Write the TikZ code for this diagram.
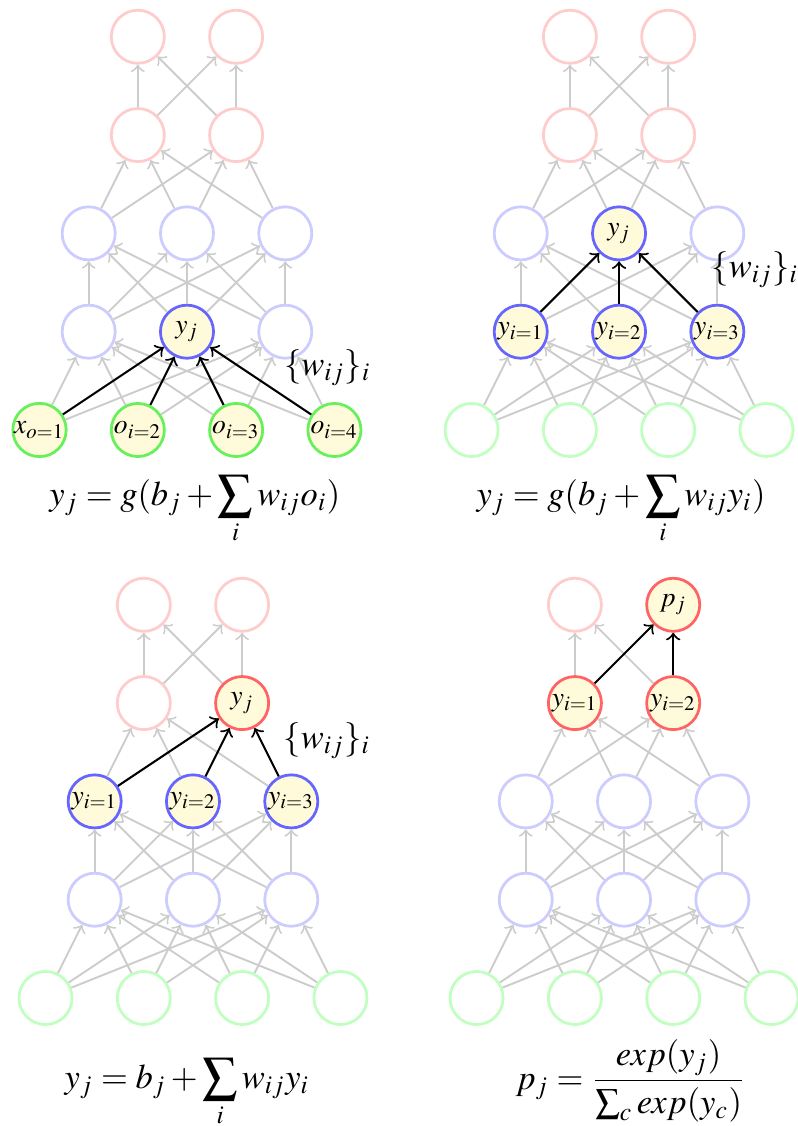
\documentclass[tikz,border=0pt]{standalone}
\usepackage{mathptmx}
\usetikzlibrary{positioning,calc}
\definecolor{GreenFaint}{RGB}{192,255,192}
\definecolor{GreenStrong}{RGB}{102,240,90}
\definecolor{BlueFaint}{RGB}{204,204,255}
\definecolor{BlueStrong}{RGB}{102,102,255}
\definecolor{RedFaint}{RGB}{255,204,204}
\definecolor{RedStrong}{RGB}{255,100,100}
\definecolor{CreamFill}{RGB}{255,251,218}
\definecolor{EdgeGray}{RGB}{204,204,204}
\tikzset{
  neuron/.style={circle, minimum size=0.54cm, inner sep=0pt, line width=0.8pt,
    fill=white, font=\footnotesize},
  inunit/.style={neuron, draw=GreenFaint},
  inlit/.style={neuron, draw=GreenStrong, fill=CreamFill},
  hidunit/.style={neuron, draw=BlueFaint},
  hidlit/.style={neuron, draw=BlueStrong, fill=CreamFill},
  outunit/.style={neuron, draw=RedFaint},
  outlit/.style={neuron, draw=RedStrong, fill=CreamFill},
  weightarr/.style={->, line width=0.55pt, EdgeGray},
  activearr/.style={->, line width=0.6pt, black},
  wlabel/.style={inner sep=1pt},
  eqlabel/.style={anchor=base, inner sep=0pt},
}

\begin{document}
\begin{tikzpicture}
  \useasboundingbox (-0.402,4.374) rectangle (7.706,-7.080);

  % ---- panel A: entrada -> primera capa oculta ----
  \begin{scope}[shift={(0,0)}]
    \foreach \k/\lab in {1/x_{o=1},2/o_{i=2},3/o_{i=3},4/o_{i=4}}
      \node[inlit] (a-in\k) at (\k-1,0) {$\lab$};
    \foreach \k/\sty/\lab in {1/hidunit/{},2/hidlit/y_j,3/hidunit/{}}
      \node[\sty] (a-ha\k) at (\k-0.5,1) {$\lab$};
    \foreach \k in {1,2,3}
      \node[hidunit] (a-hb\k) at (\k-0.5,2) {};
    \foreach \k in {1,2}
      \node[outunit] (a-hc\k) at (\k,3) {};
    \foreach \k in {1,2}
      \node[outunit] (a-out\k) at (\k,4) {};

    \foreach \i in {1,...,4} \foreach \j in {1,3} \draw[weightarr] (a-in\i) -- (a-ha\j);
    \foreach \i in {1,2,3} \foreach \j in {1,2,3} \draw[weightarr] (a-ha\i) -- (a-hb\j);
    \foreach \i in {1,2,3} \foreach \j in {1,2} \draw[weightarr] (a-hb\i) -- (a-hc\j);
    \foreach \i in {1,2} \foreach \j in {1,2} \draw[weightarr] (a-hc\i) -- (a-out\j);
    \foreach \i in {1,...,4} \draw[activearr] (a-in\i) -- (a-ha2);

    \node[wlabel] (a-w) at (2.93,0.63) {$\{w_{ij}\}_i$};
    \node[eqlabel] (a-eq) at (1.58,-0.763) {$\displaystyle y_j = g(b_j + \sum_i w_{ij} o_i)$};
  \end{scope}

  % ---- panel B: capa oculta -> capa oculta ----
  \begin{scope}[shift={(4.395,0)}]
    \foreach \k in {1,...,4}
      \node[inunit] (b-in\k) at (\k-1,0) {};
    \foreach \k in {1,2,3}
      \node[hidlit] (b-ha\k) at (\k-0.5,1) {$y_{i=\k}$};
    \foreach \k/\sty/\lab in {1/hidunit/{},2/hidlit/y_j,3/hidunit/{}}
      \node[\sty] (b-hb\k) at (\k-0.5,2) {$\lab$};
    \foreach \k in {1,2}
      \node[outunit] (b-hc\k) at (\k,3) {};
    \foreach \k in {1,2}
      \node[outunit] (b-out\k) at (\k,4) {};

    \foreach \i in {1,...,4} \foreach \j in {1,2,3} \draw[weightarr] (b-in\i) -- (b-ha\j);
    \foreach \i in {1,2,3} \foreach \j in {1,3} \draw[weightarr] (b-ha\i) -- (b-hb\j);
    \foreach \i in {1,2,3} \foreach \j in {1,2} \draw[weightarr] (b-hb\i) -- (b-hc\j);
    \foreach \i in {1,2} \foreach \j in {1,2} \draw[weightarr] (b-hc\i) -- (b-out\j);
    \foreach \i in {1,2,3} \draw[activearr] (b-ha\i) -- (b-hb2);

    \node[wlabel] (b-w) at (2.884,1.628) {$\{w_{ij}\}_i$};
    \node[eqlabel] (b-eq) at (1.52,-0.763) {$\displaystyle y_j = g(b_j + \sum_i w_{ij} y_i)$};
  \end{scope}

  % ---- panel C: capa oculta -> capa lineal ----
  \begin{scope}[shift={(0.061,-5.778)}]
    \foreach \k in {1,...,4}
      \node[inunit] (c-in\k) at (\k-1,0) {};
    \foreach \k in {1,2,3}
      \node[hidunit] (c-ha\k) at (\k-0.5,1) {};
    \foreach \k in {1,2,3}
      \node[hidlit] (c-hb\k) at (\k-0.5,2) {$y_{i=\k}$};
    \foreach \k/\sty/\lab in {1/outunit/{},2/outlit/y_j}
      \node[\sty] (c-hc\k) at (\k,3) {$\lab$};
    \foreach \k in {1,2}
      \node[outunit] (c-out\k) at (\k,4) {};

    \foreach \i in {1,...,4} \foreach \j in {1,2,3} \draw[weightarr] (c-in\i) -- (c-ha\j);
    \foreach \i in {1,2,3} \foreach \j in {1,2,3} \draw[weightarr] (c-ha\i) -- (c-hb\j);
    \foreach \i in {1,2,3} \draw[weightarr] (c-hb\i) -- (c-hc1);
    \foreach \i in {1,2} \foreach \j in {1,2} \draw[weightarr] (c-hc\i) -- (c-out\j);
    \foreach \i in {1,2,3} \draw[activearr] (c-hb\i) -- (c-hc2);

    \node[wlabel] (c-w) at (2.864,2.614) {$\{w_{ij}\}_i$};
    \node[eqlabel] (c-eq) at (1.44,-0.92) {$\displaystyle y_j = b_j + \sum_i w_{ij} y_i$};
  \end{scope}

  % ---- panel D: softmax ----
  \begin{scope}[shift={(4.446,-5.778)}]
    \foreach \k in {1,...,4}
      \node[inunit] (d-in\k) at (\k-1,0) {};
    \foreach \k in {1,2,3}
      \node[hidunit] (d-ha\k) at (\k-0.5,1) {};
    \foreach \k in {1,2,3}
      \node[hidunit] (d-hb\k) at (\k-0.5,2) {};
    \foreach \k in {1,2}
      \node[outlit] (d-hc\k) at (\k,3) {$y_{i=\k}$};
    \foreach \k/\sty/\lab in {1/outunit/{},2/outlit/p_j}
      \node[\sty] (d-out\k) at (\k,4) {$\lab$};

    \foreach \i in {1,...,4} \foreach \j in {1,2,3} \draw[weightarr] (d-in\i) -- (d-ha\j);
    \foreach \i in {1,2,3} \foreach \j in {1,2,3} \draw[weightarr] (d-ha\i) -- (d-hb\j);
    \foreach \i in {1,2,3} \foreach \j in {1,2} \draw[weightarr] (d-hb\i) -- (d-hc\j);
    \foreach \i in {1,2} \draw[weightarr] (d-hc\i) -- (d-out1);
    \foreach \i in {1,2} \draw[activearr] (d-hc\i) -- (d-out2);

    \node[eqlabel] (d-eq) at (1.57,-0.93) {$\displaystyle p_j = \frac{exp(y_j)}{\sum_c exp(y_c)}$};
  \end{scope}
\end{tikzpicture}
\end{document}
